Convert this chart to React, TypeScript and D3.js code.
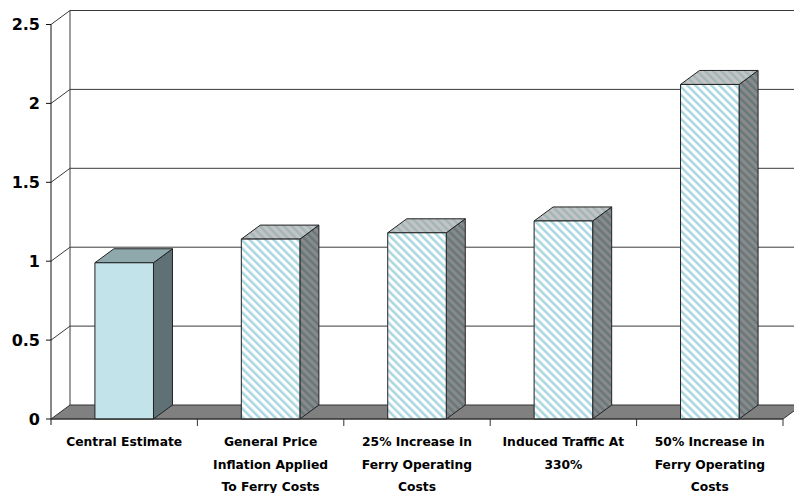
import React from "react";
import * as d3 from "d3";

const categories = [
  "Central Estimate",
  "General Price Inflation Applied To Ferry Costs",
  "25% Increase in Ferry Operating Costs",
  "Induced Traffic At 330%",
  "50% Increase in Ferry Operating Costs",
];
const labelLines = [
  ["Central Estimate"],
  ["General Price", "Inflation Applied", "To Ferry Costs"],
  ["25% Increase in", "Ferry Operating", "Costs"],
  ["Induced Traffic At", "330%"],
  ["50% Increase in", "Ferry Operating", "Costs"],
];
const values = [0.99, 1.14, 1.18, 1.255, 2.12];
const yTicks = [0, 0.5, 1, 1.5, 2, 2.5];
const yTickLabels = ["0", "0.5", "1", "1.5", "2", "2.5"];

const W = 794;
const H = 493;
const DX = 19;
const DY = -14;
const FONT = "'DejaVu Sans', Verdana, sans-serif";

export default function App() {
  const x = d3.scaleBand<string>().domain(categories).range([51, 783]).padding(0);
  const y = d3.scaleLinear().domain([0, 2.5]).range([419, 24.5]);
  const bw = x.bandwidth() * 0.4;
  const y0 = y(0);
  const line = (pts: [number, number][]) => d3.line()(pts) + "Z";
  const gridColor = "#3a3a3a";

  return (
    <svg width={W} height={H} style={{ position: "absolute", left: 0, top: 0, background: "#fff" }}>
      <defs>
        <pattern id="hFront" patternUnits="userSpaceOnUse" width={5.66} height={5.66} patternTransform="rotate(-45)">
          <rect width={5.66} height={5.66} fill="#ffffff" />
          <rect width={2.5} height={5.66} fill="#a9d6e0" />
        </pattern>
        <pattern id="hSide" patternUnits="userSpaceOnUse" width={5.66} height={5.66} patternTransform="rotate(-45)">
          <rect width={5.66} height={5.66} fill="#8a8a8a" />
          <rect width={2.5} height={5.66} fill="#66787c" />
        </pattern>
        <pattern id="hTop" patternUnits="userSpaceOnUse" width={5.66} height={5.66} patternTransform="rotate(-45)">
          <rect width={5.66} height={5.66} fill="#c4c4c4" />
          <rect width={2.5} height={5.66} fill="#a2b6ba" />
        </pattern>
      </defs>

      {yTicks.slice(1).map((t) => (
        <g key={"g" + t}>
          <line x1={51} y1={y(t)} x2={51 + DX} y2={y(t) + DY} stroke={gridColor} strokeWidth={1} />
          <line x1={51 + DX} y1={y(t) + DY} x2={W + 20} y2={y(t) + DY} stroke={gridColor} strokeWidth={1} />
        </g>
      ))}
      <line x1={51 + DX} y1={y(2.5) + DY} x2={51 + DX} y2={y0 + DY} stroke={gridColor} strokeWidth={1} />

      <path
        d={line([
          [51, y0],
          [783, y0],
          [783 + DX, y0 + DY],
          [51 + DX, y0 + DY],
        ])}
        fill="#808080"
        stroke="#333"
        strokeWidth={1}
      />

      {categories.map((c, i) => {
        const cx = (x(c) as number) + x.bandwidth() / 2;
        const xl = cx - bw / 2;
        const xr = cx + bw / 2;
        const yv = y(values[i]);
        const first = i === 0;
        return (
          <g key={c} stroke="#222" strokeWidth={1} strokeLinejoin="round">
            <path
              d={line([
                [xr, yv],
                [xr + DX, yv + DY],
                [xr + DX, y0 + DY],
                [xr, y0],
              ])}
              fill={first ? "#5f7174" : "url(#hSide)"}
            />
            <path
              d={line([
                [xl, yv],
                [xl + DX, yv + DY],
                [xr + DX, yv + DY],
                [xr, yv],
              ])}
              fill={first ? "#8fa8ac" : "url(#hTop)"}
            />
            <rect x={xl} y={yv} width={bw} height={y0 - yv} fill={first ? "#c1e3e9" : "url(#hFront)"} />
          </g>
        );
      })}

      <line x1={51} y1={y(2.5)} x2={51} y2={y0 + 6} stroke="#111" strokeWidth={1} />
      {yTicks.map((t, i) => (
        <g key={"t" + t}>
          <line x1={46} y1={y(t)} x2={51} y2={y(t)} stroke="#111" strokeWidth={1} />
          <text
            x={40}
            y={y(t)}
            textAnchor="end"
            dominantBaseline="central"
            fontFamily={FONT}
            fontWeight="bold"
            fontSize={16}
            fill="#000"
          >
            {yTickLabels[i]}
          </text>
        </g>
      ))}

      <line x1={51} y1={y0} x2={783} y2={y0} stroke="#333" strokeWidth={1} />
      {categories.map((c) => (
        <line key={"xt" + c} x1={(x(c) as number) + x.bandwidth()} y1={y0} x2={(x(c) as number) + x.bandwidth()} y2={y0 + 7} stroke="#333" strokeWidth={1} />
      ))}
      {categories.map((c, i) => {
        const cx = (x(c) as number) + x.bandwidth() / 2;
        return (
          <text key={"l" + c} textAnchor="middle" fontFamily={FONT} fontWeight="bold" fontSize={12.3} fill="#000">
            {labelLines[i].map((ln, j) => (
              <tspan key={j} x={cx} y={446 + j * 22.5}>
                {ln}
              </tspan>
            ))}
          </text>
        );
      })}
    </svg>
  );
}
